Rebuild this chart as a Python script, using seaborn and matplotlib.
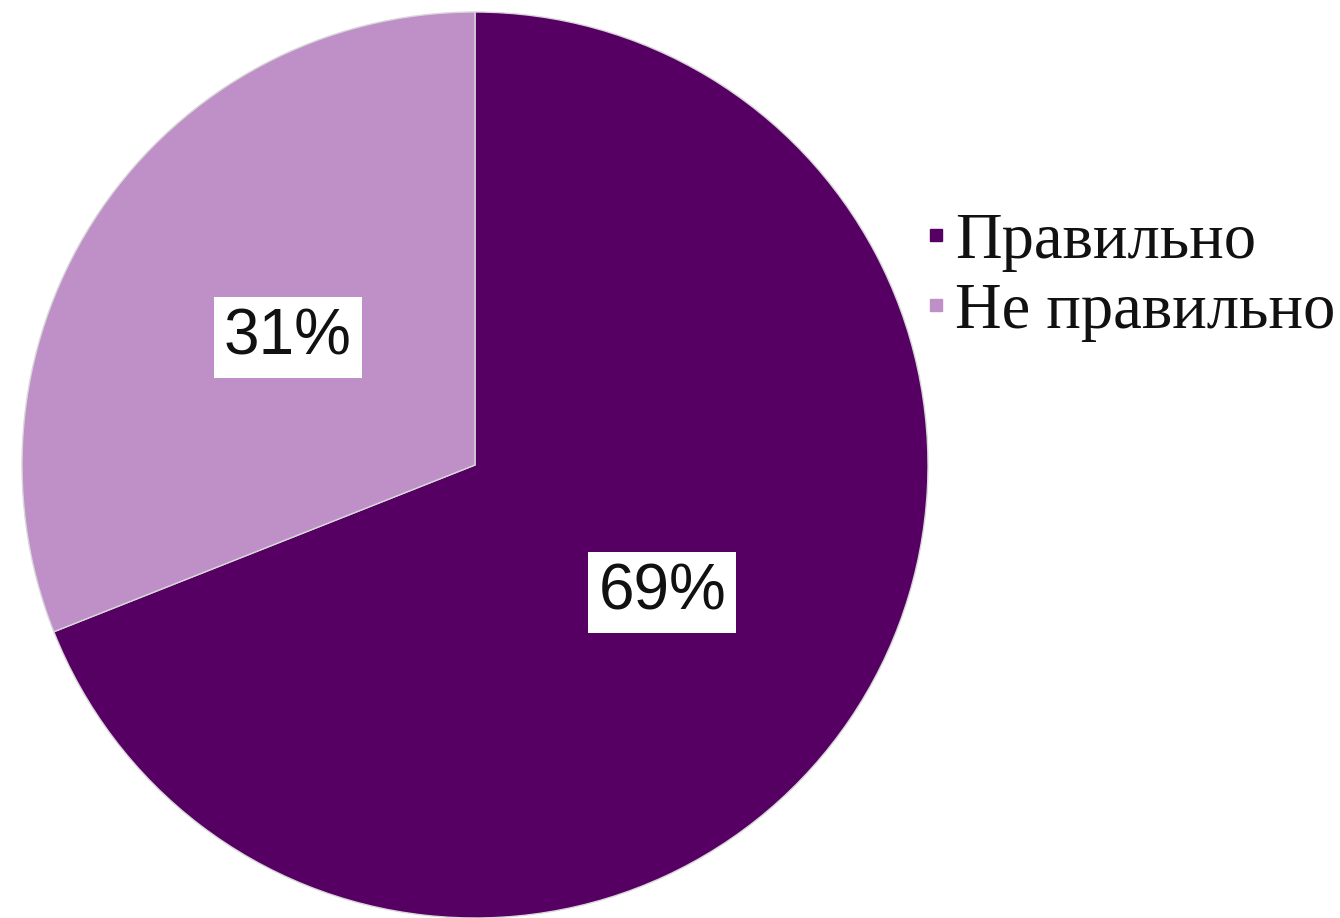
import matplotlib
matplotlib.use("Agg")
import matplotlib.pyplot as plt
import seaborn as sns
from matplotlib.lines import Line2D

# Data
categories = ['Правильно', 'Не правильно']
shares = [69, 31]
colors = ['#560064', '#BF8FC8']

sns.set_theme(style='white')
plt.rcParams['font.family'] = ['Liberation Sans', 'DejaVu Sans']

fig = plt.figure(figsize=(13.4, 9.18), dpi=100)
ax = fig.add_axes([22 / 1340, 0.0, 906 / 1340, 906 / 918])

wedges, texts, autotexts = ax.pie(
    shares, colors=colors, startangle=90, counterclock=False,
    autopct='%1.0f%%', pctdistance=0.5,
    wedgeprops=dict(edgecolor='#d8d8d8', linewidth=1),
    textprops=dict(fontsize=46, color='#111111'),
)
for t in autotexts:
    t.set_bbox(dict(boxstyle='square,pad=0.16', facecolor='white', edgecolor='none'))
ax.set_xlim(-1, 1)
ax.set_ylim(-1, 1)
ax.set_aspect('equal')

# Legend with small square markers
handles = [Line2D([], [], marker='s', linestyle='none', markersize=8.5,
                  markerfacecolor=c, markeredgecolor=c) for c in colors]
leg = fig.legend(handles, categories, loc='upper left',
                 bbox_to_anchor=(925 / 1340, 1 - 212 / 918),
                 frameon=False, handlelength=0.35, handletextpad=0.12, labelspacing=0.17,
                 borderpad=0, borderaxespad=0,
                 prop=dict(family='Liberation Serif', size=46.5))
for t in leg.get_texts():
    t.set_color('#111111')

fig.savefig('out.png', dpi=100, facecolor='white')
